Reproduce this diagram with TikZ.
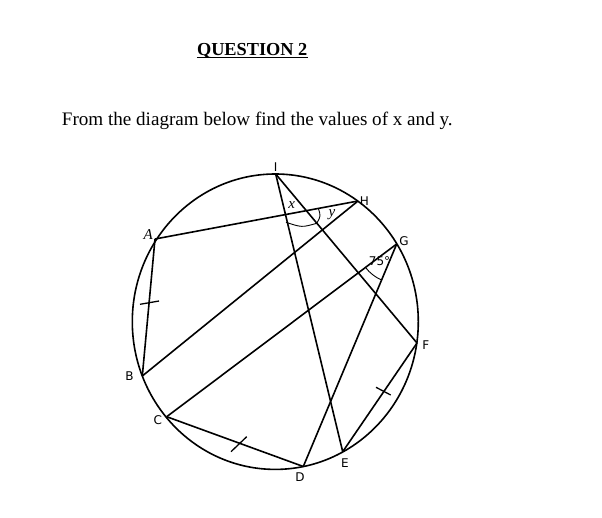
\documentclass[tikz,border=0pt]{standalone}
\usepackage{fontspec}
\setmainfont{Liberation Serif}
\newfontfamily\lblfont{DejaVu Sans}
\begin{document}
\begin{tikzpicture}[x=1pt,y=-1pt,
  geo/.style={line width=1.6pt},
  tickmark/.style={line width=1.3pt},
  anglearc/.style={line width=0.9pt},
  lbl/.style={font=\lblfont\fontsize{12}{14}\selectfont, inner sep=0pt},
  mlbl/.style={font=\itshape\fontsize{15}{17}\selectfont, inner sep=0pt}]
\useasboundingbox (0,0) rectangle (602,517);
% heading
\node[anchor=base, inner sep=0pt, font=\bfseries\fontsize{18.3}{21}\selectfont] (title) at (252.2,55) {QUESTION 2};
\draw[line width=1pt] ([yshift=-2.8pt]title.base west) -- ([yshift=-2.8pt]title.base east);
\node[anchor=base west, inner sep=0pt, font=\fontsize{19.1}{22}\selectfont] (task) at (61.7,125) {From the diagram below find the values of x and y.};
% circle
\coordinate (O) at (275.3,321.7);
\draw[geo] (O) ellipse [x radius=143pt, y radius=147.7pt];
% points
\coordinate (I) at (275.7,174);
\coordinate (H) at (358,201);
\coordinate (A) at (155,239);
\coordinate (G) at (396.7,244);
\coordinate (F) at (417,343);
\coordinate (B) at (142.3,376);
\coordinate (C) at (166.7,416.7);
\coordinate (D) at (303.3,466.5);
\coordinate (E) at (342.7,451.7);
% chords
\draw[geo] (A) -- (H);
\draw[geo] (A) -- (B);
\draw[geo] (B) -- (H);
\draw[geo] (C) -- (G);
\draw[geo] (C) -- (D);
\draw[geo] (D) -- (G);
\draw[geo] (I) -- (E);
\draw[geo] (I) -- (F);
\draw[geo] (F) -- (E);
% equal-length ticks
\draw[tickmark] (140,304.3) -- (159,301);
\draw[tickmark] (231,451.7) -- (246.7,436.7);
\draw[tickmark] (376,387.3) -- (390.7,395);
% angle marks
\draw[anglearc] (286,222.3) .. controls (301.8,227.5) .. (316.7,223.3);
\draw[anglearc] (318.3,208.3) .. controls (320.8,216.1) .. (316.7,223.3);
\draw[anglearc] (G) ++(112.8:39) arc[start angle=112.8, end angle=143.1, radius=39];
% labels
\node[lbl] (lI) at (275.7,166.7) {I};
\node[lbl] (lH) at (364.3,200.7) {H};
\node[lbl] (lG) at (404,241.2) {G};
\node[mlbl] (lA) at (148.3,234.5) {A};
\node[lbl] (lF) at (425.7,344.7) {F};
\node[lbl] (lB) at (129.5,376) {B};
\node[lbl] (lC) at (157.7,420) {C};
\node[lbl] (lD) at (300,476.7) {D};
\node[lbl] (lE) at (345,462.7) {E};
\node[mlbl] (lx) at (291.7,205) {x};
\node[mlbl] (ly) at (332,215) {y};
\node[lbl] (l75) at (379.5,261) {75°};
\end{tikzpicture}
\end{document}
